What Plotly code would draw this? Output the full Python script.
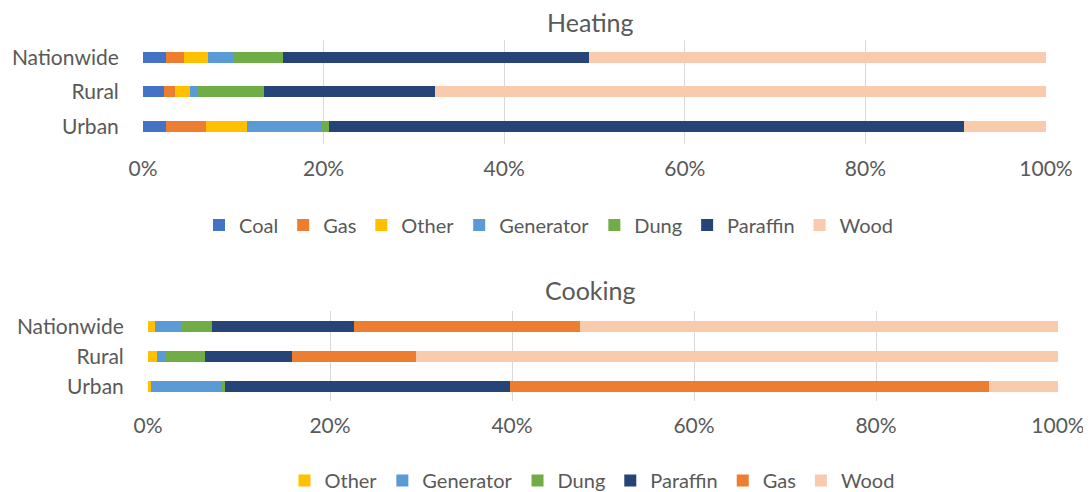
import plotly.graph_objects as go

REGIONS = ["Urban", "Rural", "Nationwide"]

# heating shares (%), order: Urban, Rural, Nationwide
HEAT_COAL = [2.6, 2.3, 2.5]
HEAT_GAS = [4.4, 1.2, 2.0]
HEAT_OTHER = [4.5, 1.7, 2.7]
HEAT_GENERATOR = [8.3, 0.9, 2.9]
HEAT_DUNG = [0.8, 7.3, 5.4]
HEAT_PARAFFIN = [70.3, 18.9, 33.9]
HEAT_WOOD = [9.1, 67.7, 50.6]

# cooking shares (%)
COOK_OTHER = [0.3, 1.0, 0.8]
COOK_GENERATOR = [7.7, 1.0, 2.8]
COOK_DUNG = [0.5, 4.3, 3.4]
COOK_PARAFFIN = [31.3, 9.5, 15.6]
COOK_GAS = [52.6, 13.7, 24.9]
COOK_WOOD = [7.6, 70.5, 52.5]

TICKS = [0, 20, 40, 60, 80, 100]
TICK_LABELS = ["0%", "20%", "40%", "60%", "80%", "100%"]

COLORS = {
    "Coal": "#4472C4",
    "Gas": "#ED7D31",
    "Other": "#FFC000",
    "Generator": "#5B9BD5",
    "Dung": "#70AD47",
    "Paraffin": "#264478",
    "Wood": "#F8CBAD",
}

heating = [
    ("Coal", HEAT_COAL), ("Gas", HEAT_GAS), ("Other", HEAT_OTHER),
    ("Generator", HEAT_GENERATOR), ("Dung", HEAT_DUNG),
    ("Paraffin", HEAT_PARAFFIN), ("Wood", HEAT_WOOD),
]
cooking = [
    ("Other", COOK_OTHER), ("Generator", COOK_GENERATOR), ("Dung", COOK_DUNG),
    ("Paraffin", COOK_PARAFFIN), ("Gas", COOK_GAS), ("Wood", COOK_WOOD),
]

FONT = "Lato, 'Open Sans', sans-serif"
TXT = "#595959"
GRID = "#D9D9D9"

# the page body has an 8px margin, so screen positions are shifted by OFF
OFF = 8
W, H = 1091, 492


def px_x(a, b):
    return [(a - OFF) / W, (b - OFF) / W]


def px_y(top, bottom):
    return [1 - (bottom - OFF) / H, 1 - (top - OFF) / H]


fig = go.Figure()
for name, vals in heating:
    fig.add_trace(go.Bar(
        x=vals, y=REGIONS, name=name, orientation="h", width=0.32,
        marker=dict(color=COLORS[name], line=dict(width=0)),
        xaxis="x", yaxis="y", legend="legend",
    ))
for name, vals in cooking:
    fig.add_trace(go.Bar(
        x=vals, y=REGIONS, name=name, orientation="h", width=0.38,
        marker=dict(color=COLORS[name], line=dict(width=0)),
        xaxis="x2", yaxis="y2", legend="legend2",
    ))

xcommon = dict(
    range=[0, 100], tickmode="array", tickvals=TICKS, ticktext=TICK_LABELS,
    showgrid=True, gridcolor=GRID, gridwidth=1, zeroline=False,
    showline=False, ticks="outside", ticklen=6, tickcolor="rgba(0,0,0,0)",
    tickfont=dict(size=21, color=TXT, family=FONT), fixedrange=True,
    automargin=False,
)
ycommon = dict(
    showgrid=False, zeroline=False, showline=False,
    ticks="outside", ticklen=19, tickcolor="rgba(0,0,0,0)",
    tickfont=dict(size=21, color=TXT, family=FONT), fixedrange=True,
    automargin=False,
)
legcommon = dict(
    orientation="h", xanchor="center", yanchor="middle",
    traceorder="normal", font=dict(size=20, color=TXT, family=FONT),
    itemwidth=30, bgcolor="rgba(0,0,0,0)",
)

fig.update_layout(
    width=W, height=H,
    paper_bgcolor="white", plot_bgcolor="white",
    font=dict(family=FONT, color=TXT),
    margin=dict(l=0, r=0, t=0, b=0),
    barmode="stack",
    xaxis=dict(domain=px_x(143, 1046), anchor="y", **xcommon),
    yaxis=dict(domain=px_y(40, 144), anchor="x", **ycommon),
    xaxis2=dict(domain=px_x(148, 1058), anchor="y2", **xcommon),
    yaxis2=dict(domain=px_y(312, 402), anchor="x2", **ycommon),
    legend=dict(x=(549 - OFF) / W, y=1 - (225 - OFF) / H, **legcommon),
    legend2=dict(x=(592 - OFF) / W, y=1 - (481 - OFF) / H, **legcommon),
    annotations=[
        dict(text="Heating", x=(590 - OFF) / W, y=1 - (22 - OFF) / H,
             xref="paper", yref="paper", yanchor="middle", showarrow=False,
             font=dict(size=25, color=TXT, family=FONT)),
        dict(text="Cooking", x=(590 - OFF) / W, y=1 - (291 - OFF) / H,
             xref="paper", yref="paper", yanchor="middle", showarrow=False,
             font=dict(size=25, color=TXT, family=FONT)),
    ],
    showlegend=True,
)

fig.write_html("out.html")
